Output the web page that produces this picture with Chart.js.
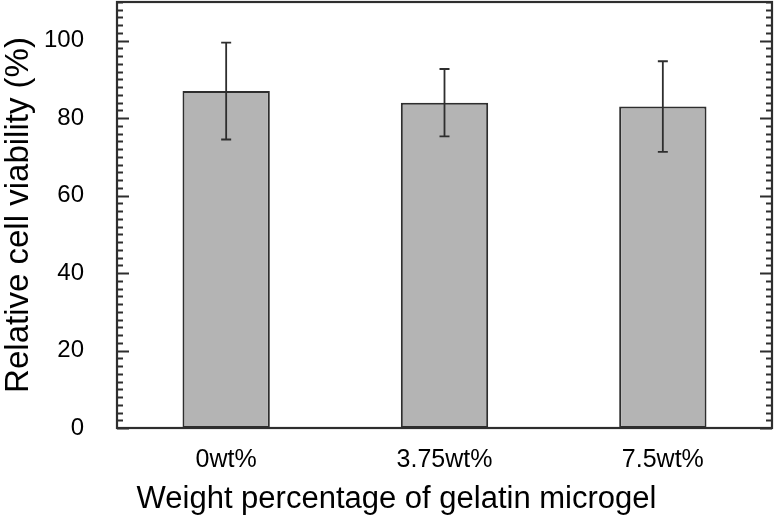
<!DOCTYPE html>
<html>
<head>
<meta charset="utf-8">
<script src="https://cdn.jsdelivr.net/npm/chart.js@4.4.1/dist/chart.umd.min.js"></script>
<style>
  body { margin: 0; background: #fff; }
  canvas { display: block; }
</style>
</head>
<body>
<canvas id="chartCanva" width="775" height="521"></canvas>
<script>
// data
const categories = ["0wt%", "3.75wt%", "7.5wt%"];
const viability = [87.0, 84.0, 83.0];     // mean relative viability (%)
const viabilityErr = [12.5, 8.7, 11.7];   // +/- error
const yTicks = [0, 20, 40, 60, 80, 100];
const yMax = 110;
const minorStep = 2;

const fontFamily = "'Liberation Sans', Arial, sans-serif";
const inkColor = "#2e2e2e";

// error bars drawn from the y scale
const errorBars = {
    id: "errorBars",
    afterDatasetsDraw(chart) {
        const ctx = chart.ctx;
        const yScale = chart.scales.y;
        const meta = chart.getDatasetMeta(0);
        ctx.save();
        ctx.strokeStyle = inkColor;
        ctx.lineWidth = 1.8;
        meta.data.forEach((bar, i) => {
            const x = bar.x;
            const top = yScale.getPixelForValue(viability[i] + viabilityErr[i]);
            const bottom = yScale.getPixelForValue(viability[i] - viabilityErr[i]);
            ctx.beginPath();
            ctx.moveTo(x, top);
            ctx.lineTo(x, bottom);
            ctx.moveTo(x - 5, top);
            ctx.lineTo(x + 5, top);
            ctx.moveTo(x - 5, bottom);
            ctx.lineTo(x + 5, bottom);
            ctx.stroke();
        });
        ctx.restore();
    },
};

// box frame + inward ticks on left and right
const frameTicks = {
    id: "frameTicks",
    afterDraw(chart) {
        const ctx = chart.ctx;
        const { left, right, top, bottom } = chart.chartArea;
        const yScale = chart.scales.y;
        ctx.save();
        ctx.strokeStyle = inkColor;
        ctx.lineWidth = 1.8;
        for (let v = 0; v <= yMax; v += minorStep) {
            const y = Math.round(yScale.getPixelForValue(v)) + 0.5;
            const len = v % 20 === 0 ? 12 : 6;
            ctx.beginPath();
            ctx.moveTo(left, y);
            ctx.lineTo(left + len, y);
            ctx.moveTo(right, y);
            ctx.lineTo(right - len, y);
            ctx.stroke();
        }
        ctx.lineWidth = 2.2;
        ctx.strokeRect(left, top, right - left, bottom - top);
        ctx.restore();
    },
};

new Chart(document.getElementById("chartCanva"), {
    type: "bar",
    data: {
        labels: categories,
        datasets: [
            {
                label: "Relative cell viability (%)",
                data: viability,
                backgroundColor: "#b4b4b4",
                borderColor: inkColor,
                borderWidth: 2,
                borderSkipped: false,
                barPercentage: 0.4,
                categoryPercentage: 1.0,
            },
        ],
    },
    options: {
        responsive: false,
        animation: false,
        layout: { padding: { left: 21, right: 3, top: 2, bottom: 0 } },
        plugins: {
            legend: { display: false },
            tooltip: { enabled: false },
            title: {
                display: true,
                position: "bottom",
                text: "Weight percentage of gelatin microgel",
                color: "#000",
                font: { family: fontFamily, size: 31, weight: "normal" },
                padding: { top: 0, bottom: 3 },
            },
        },
        scales: {
            x: {
                grid: { display: false, drawTicks: false },
                border: { display: false },
                ticks: {
                    color: "#000",
                    padding: 17,
                    font: { family: fontFamily, size: 25 },
                },
                afterFit(scale) {
                    scale.height = 52.8;
                },
            },
            y: {
                min: 0,
                max: yMax,
                grid: { display: false, drawTicks: false },
                border: { display: false },
                afterBuildTicks(scale) {
                    scale.ticks = yTicks.map((v) => ({ value: v }));
                },
                ticks: {
                    color: "#000",
                    padding: 33,
                    font: { family: fontFamily, size: 24 },
                },
                title: {
                    display: true,
                    text: "Relative cell viability (%)",
                    color: "#000",
                    font: { family: fontFamily, size: 33 },
                    padding: { top: -22, bottom: 0 },
                },
                afterFit(scale) {
                    scale.width = 96;
                    // keep the label padding from pushing the plot down
                    scale.paddingTop = 0;
                    scale.paddingBottom = 0;
                },
            },
        },
    },
    plugins: [errorBars, frameTicks],
});
</script>
</body>
</html>
